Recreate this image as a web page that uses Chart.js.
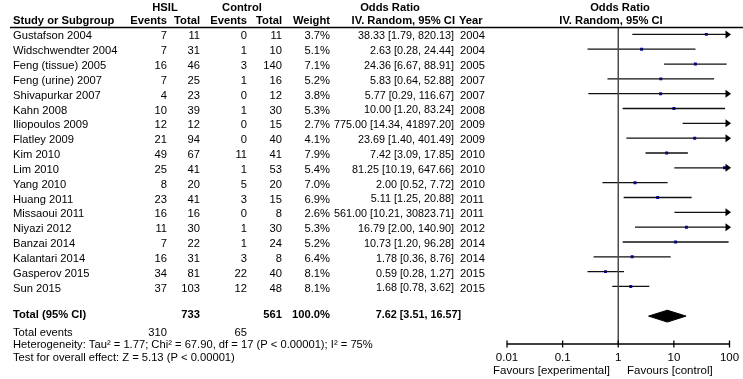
<!DOCTYPE html>
<html>
<head>
<meta charset="utf-8">
<script src="https://cdn.jsdelivr.net/npm/chart.js@4/dist/chart.umd.min.js"></script>
<style>
  body { margin: 0; background: #fff; }
  canvas { display: block; }
</style>
</head>
<body>
<canvas id="forestChart" width="743" height="379"></canvas>
<script type="text/javascript">
// study rows
var studies = ["Gustafson 2004", "Widschwendter 2004", "Feng (tissue) 2005", "Feng (urine) 2007",
  "Shivapurkar 2007", "Kahn 2008", "Iliopoulos 2009", "Flatley 2009", "Kim 2010", "Lim 2010",
  "Yang 2010", "Huang 2011", "Missaoui 2011", "Niyazi 2012", "Banzai 2014", "Kalantari 2014",
  "Gasperov 2015", "Sun 2015"];
var hsilEvents = [7, 7, 16, 7, 4, 10, 12, 21, 49, 25, 8, 23, 16, 11, 7, 16, 34, 37];
var hsilTotal = [11, 31, 46, 25, 23, 39, 12, 94, 67, 41, 20, 41, 16, 30, 22, 31, 81, 103];
var ctrlEvents = [0, 1, 3, 1, 0, 1, 0, 0, 11, 1, 5, 3, 0, 1, 1, 3, 22, 12];
var ctrlTotal = [11, 10, 140, 16, 12, 30, 15, 40, 41, 53, 20, 15, 8, 30, 24, 8, 40, 48];
var weights = [3.7, 5.1, 7.1, 5.2, 3.8, 5.3, 2.7, 4.1, 7.9, 5.4, 7.0, 6.9, 2.6, 5.3, 5.2, 6.4, 8.1, 8.1];
var oddsRatio = [38.33, 2.63, 24.36, 5.83, 5.77, 10.00, 775.00, 23.69, 7.42, 81.25, 2.00, 5.11, 561.00, 16.79, 10.73, 1.78, 0.59, 1.68];
var ciLow = [1.79, 0.28, 6.67, 0.64, 0.29, 1.20, 14.34, 1.40, 3.09, 10.19, 0.52, 1.25, 10.21, 2.00, 1.20, 0.36, 0.28, 0.78];
var ciHigh = [820.13, 24.44, 88.91, 52.88, 116.67, 83.24, 41897.20, 401.49, 17.85, 647.66, 7.72, 20.88, 30823.71, 140.90, 96.28, 8.76, 1.27, 3.62];
var years = [2004, 2004, 2005, 2007, 2007, 2008, 2009, 2009, 2010, 2010, 2010, 2011, 2011, 2012, 2014, 2014, 2015, 2015];

// pooled result
var totalHsil = 733, totalCtrl = 561, totalEventsHsil = 310, totalEventsCtrl = 65;
var pooledOR = 7.62, pooledLow = 3.51, pooledHigh = 16.57;
var totalRow = 19;

// axis
var axisTicks = [0.01, 0.1, 1, 10, 100];
var axisTickLabels = ["0.01", "0.1", "1", "10", "100"];

var yMin = -0.43, yMax = 20.88;
var FONT = "Arial, 'Liberation Sans', sans-serif";

var ciLine = [];
studies.forEach(function (s, i) {
  ciLine.push({x: ciLow[i], y: i}, {x: ciHigh[i], y: i}, {x: null, y: null});
});
var points = oddsRatio.map(function (v, i) { return {x: v, y: i}; });
var diamond = [
  {x: pooledLow, y: totalRow}, {x: pooledOR, y: totalRow - 0.4},
  {x: pooledHigh, y: totalRow}, {x: pooledOR, y: totalRow + 0.4},
  {x: pooledLow, y: totalRow}
];

var tablePlugin = {
  id: "forestTable",
  afterDraw: function (chart) {
    var ctx = chart.ctx;
    var xs = chart.scales.x, ys = chart.scales.y;
    var area = chart.chartArea;
    ctx.save();
    ctx.fillStyle = "#000";
    ctx.textBaseline = "middle";

    function txt(s, x, y, align, bold, size) {
      ctx.font = (bold ? "bold " : "") + (size || 11.2) + "px " + FONT;
      ctx.textAlign = align;
      ctx.fillText(s, x, y);
    }

    // headers
    txt("HSIL", 165, 8, "center", true);
    txt("Control", 242, 8, "center", true);
    txt("Odds Ratio", 390, 8, "center", true);
    txt("Odds Ratio", 620, 8, "center", true);
    txt("Study or Subgroup", 13, 21, "left", true);
    txt("Events", 167, 21, "right", true);
    txt("Total", 200, 21, "right", true);
    txt("Events", 247, 21, "right", true);
    txt("Total", 282, 21, "right", true);
    txt("Weight", 330, 21, "right", true);
    txt("IV. Random, 95% CI", 455, 21, "right", true);
    txt("Year", 459, 21, "left", true);
    txt("IV. Random, 95% CI", 611, 21, "center", true);

    ctx.strokeStyle = "#000";
    ctx.lineWidth = 1.5;
    ctx.beginPath();
    ctx.moveTo(10, 27.5);
    ctx.lineTo(743, 27.5);
    ctx.stroke();

    // study rows
    studies.forEach(function (s, i) {
      var y = ys.getPixelForValue(i) + 2;
      txt(s, 13, y, "left");
      txt(String(hsilEvents[i]), 167, y, "right");
      txt(String(hsilTotal[i]), 200, y, "right");
      txt(String(ctrlEvents[i]), 247, y, "right");
      txt(String(ctrlTotal[i]), 282, y, "right");
      txt(weights[i].toFixed(1) + "%", 330, y, "right");
      txt(oddsRatio[i].toFixed(2) + " [" + ciLow[i].toFixed(2) + ", " + ciHigh[i].toFixed(2) + "]", 454, y, "right", false, 10.8);
      txt(String(years[i]), 460, y, "left");

      // arrow for intervals running past the axis
      if (ciHigh[i] > xs.max) {
        var ay = ys.getPixelForValue(i);
        ctx.beginPath();
        ctx.moveTo(area.right + 1.5, ay);
        ctx.lineTo(area.right - 4, ay - 4);
        ctx.lineTo(area.right - 4, ay + 4);
        ctx.closePath();
        ctx.fill();
      }
    });

    // totals
    var ty = ys.getPixelForValue(totalRow) - 1;
    txt("Total (95% CI)", 13, ty, "left", true);
    txt(String(totalHsil), 200, ty, "right", true);
    txt(String(totalCtrl), 282, ty, "right", true);
    txt("100.0%", 330, ty, "right", true);
    txt(pooledOR.toFixed(2) + " [" + pooledLow.toFixed(2) + ", " + pooledHigh.toFixed(2) + "]", 461, ty, "right", true, 10.8);
    txt("Total events", 13, ty + 18, "left");
    txt(String(totalEventsHsil), 167, ty + 18, "right");
    txt(String(totalEventsCtrl), 247, ty + 18, "right");
    txt("Heterogeneity: Tau\u00b2 = 1.77; Chi\u00b2 = 67.90, df = 17 (P < 0.00001); I\u00b2 = 75%", 13, ty + 30, "left");
    txt("Test for overall effect: Z = 5.13 (P < 0.00001)", 13, ty + 43, "left");

    // x axis
    var ay2 = area.bottom;
    ctx.lineWidth = 1.3;
    ctx.beginPath();
    ctx.moveTo(xs.getPixelForValue(axisTicks[0]), ay2);
    ctx.lineTo(xs.getPixelForValue(axisTicks[axisTicks.length - 1]), ay2);
    axisTicks.forEach(function (t) {
      var px = xs.getPixelForValue(t);
      ctx.moveTo(px, ay2 - 3.5);
      ctx.lineTo(px, ay2 + 3.5);
    });
    ctx.stroke();
    axisTicks.forEach(function (t, k) {
      txt(axisTickLabels[k], xs.getPixelForValue(t), 358, "center", false, 11.5);
    });
    txt("Favours [experimental]", 610, 371, "right", false, 11.5);
    txt("Favours [control]", 627, 371, "left", false, 11.5);
    ctx.restore();
  }
};

var chart = new Chart("forestChart", {
  type: "scatter",
  data: {
    datasets: [
      {
        type: "line",
        data: [{x: 1, y: yMin}, {x: 1, y: yMax}],
        borderColor: "#4a4a4a",
        borderWidth: 1.5,
        pointRadius: 0
      },
      {
        type: "line",
        data: ciLine,
        spanGaps: false,
        borderColor: "#111",
        borderWidth: 1.3,
        pointRadius: 0
      },
      {
        data: points,
        pointStyle: "rect",
        pointRadius: 2.1,
        backgroundColor: "#0000d0",
        borderWidth: 0
      },
      {
        type: "line",
        data: diamond,
        fill: "shape",
        backgroundColor: "#000",
        borderColor: "#000",
        borderWidth: 1,
        pointRadius: 0
      }
    ]
  },
  options: {
    responsive: false,
    animation: false,
    layout: { padding: { left: 507, right: 13.5, top: 28, bottom: 35 } },
    scales: {
      x: { type: "logarithmic", min: 0.01, max: 100, display: false },
      y: { type: "linear", min: yMin, max: yMax, reverse: true, display: false }
    },
    plugins: {
      legend: { display: false },
      tooltip: { enabled: false }
    }
  },
  plugins: [tablePlugin]
});
</script>
</body>
</html>
